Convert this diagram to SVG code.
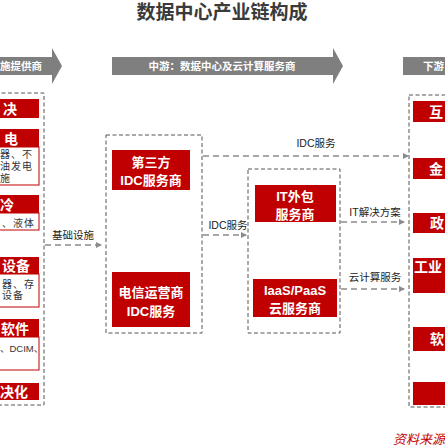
<svg xmlns="http://www.w3.org/2000/svg" width="445" height="446" viewBox="0 0 445 446">
<style>
.t{font-family:"Liberation Sans","Noto Sans CJK SC",sans-serif}
.title{font-size:19px;font-weight:bold;fill:#3a3a3a;text-anchor:middle}
.band{fill:#7f7f7f}
.bandt{font-size:10.5px;font-weight:bold;fill:#fff}
.red{fill:#c00000}
.wbox{fill:#fff;stroke:#c00000;stroke-width:1}
.hd{font-size:14px;font-weight:bold;fill:#fff}
.sm{font-size:10px;fill:#333;letter-spacing:1px}
.frame{fill:none;stroke:#555;stroke-width:1;stroke-dasharray:4 2.5}
.mid{font-size:13px;font-weight:bold;fill:#fff;text-anchor:middle}
.conn{fill:none;stroke:#8c8c8c;stroke-width:1.5;stroke-dasharray:6 4;marker-end:url(#ah)}
.lab{font-size:10.5px;fill:#222;text-anchor:middle}
.src{font-size:13px;font-style:italic;fill:#c00000}
</style>
<defs>
<marker id="ah" viewBox="0 0 6 6" refX="5" refY="3" markerWidth="6" markerHeight="6" markerUnits="userSpaceOnUse" orient="auto">
<path d="M0,0 L6,3 L0,6 z" fill="#8c8c8c"/>
</marker>
</defs>
<rect width="445" height="446" fill="#fff"/>
<text class="t title" x="222" y="19">数据中心产业链构成</text>

<g id="band-left">
<polygon class="band" points="-5,57 52,57 52,48 62,66 52,84 52,75 -5,75"/>
<text class="t bandt" x="0" y="70">施提供商</text>
</g>
<g id="band-mid">
<polygon class="band" points="112,57 333,57 333,48 343,66 333,84 333,75 112,75"/>
<text class="t bandt" x="222" y="70" text-anchor="middle">中游：数据中心及云计算服务商</text>
</g>
<g id="band-right">
<polygon class="band" points="403,57 450,57 450,75 403,75"/>
<text class="t bandt" x="423" y="70">下游</text>
</g>

<g id="upstream">
<rect class="frame" x="-5" y="93" width="49" height="312"/>
<g id="up1">
<rect class="red" x="-5" y="99" width="44" height="19"/>
<text class="t hd" x="3" y="114">决</text>
</g>
<g id="up2">
<rect class="wbox" x="-5" y="147" width="44" height="38"/>
<rect class="red" x="-5" y="129" width="44" height="18"/>
<text class="t hd" x="4" y="144">电</text>
<text class="t sm" x="0" y="158">器、不</text>
<text class="t sm" x="0" y="170">油发电</text>
<text class="t sm" x="0" y="182">施</text>
</g>
<g id="up3">
<rect class="wbox" x="-5" y="213" width="44" height="17"/>
<rect class="red" x="-5" y="195" width="44" height="18"/>
<text class="t hd" x="0" y="210">冷</text>
<text class="t sm" x="2" y="227">、液体</text>
</g>
<g id="up4">
<rect class="wbox" x="-5" y="274" width="44" height="33"/>
<rect class="red" x="-5" y="257" width="44" height="17"/>
<text class="t hd" x="2" y="271">设备</text>
<text class="t sm" x="2" y="288">器、存</text>
<text class="t sm" x="2" y="299">设备</text>
</g>
<g id="up5">
<rect class="wbox" x="-5" y="337" width="44" height="33"/>
<rect class="red" x="-5" y="319" width="44" height="18"/>
<text class="t hd" x="1" y="334">软件</text>
<text class="t sm" x="0" y="352" style="letter-spacing:0;font-size:9.5px">、DCIM、</text>
</g>
<g id="up6">
<rect class="red" x="-5" y="383" width="44" height="17"/>
<text class="t hd" x="0" y="397">决化</text>
</g>
</g>

<g id="idc-group">
<rect class="frame" x="106" y="135" width="96" height="198"/>
<g id="idc-third">
<rect class="red" x="112" y="150" width="78" height="40"/>
<text class="t mid" x="151" y="167">第三方</text>
<text class="t mid" x="151" y="185">IDC服务商</text>
</g>
<g id="idc-telecom">
<rect class="red" x="112" y="272" width="78" height="55"/>
<text class="t mid" x="151" y="297">电信运营商</text>
<text class="t mid" x="151" y="316">IDC服务</text>
</g>
</g>

<g id="cloud-group">
<rect class="frame" x="248" y="169" width="92" height="164"/>
<g id="it-outsource">
<rect class="red" x="255" y="185" width="81" height="37"/>
<text class="t mid" x="295" y="201">IT外包</text>
<text class="t mid" x="295" y="219">服务商</text>
</g>
<g id="iaas">
<rect class="red" x="253" y="279" width="84" height="38"/>
<text class="t mid" x="295" y="295">IaaS/PaaS</text>
<text class="t mid" x="295" y="313">云服务商</text>
</g>
</g>

<g id="downstream">
<rect class="frame" x="409" y="95" width="45" height="312"/>
<g id="d1"><rect class="red" x="413" y="101" width="40" height="21"/><text class="t hd" x="429" y="117">互</text></g>
<g id="d2"><rect class="red" x="413" y="158" width="40" height="21"/><text class="t hd" x="429" y="174">金</text></g>
<g id="d3"><rect class="red" x="413" y="213" width="40" height="20"/><text class="t hd" x="430" y="228">政</text></g>
<g id="d4"><rect class="red" x="413" y="258" width="40" height="35"/><text class="t hd" x="414" y="272">工业</text></g>
<g id="d5"><rect class="red" x="413" y="327" width="40" height="24"/><text class="t hd" x="430" y="344">软</text></g>
<g id="d6"><rect class="red" x="413" y="382" width="40" height="23"/></g>
</g>

<g id="connectors">
<path class="conn" d="M45,245 H101"/>
<text class="t lab" x="73" y="239">基础设施</text>
<path class="conn" d="M203,156 H408"/>
<text class="t lab" x="316" y="147">IDC服务</text>
<path class="conn" d="M203,235 H246"/>
<text class="t lab" x="228" y="229">IDC服务</text>
<path class="conn" d="M341,222 H404"/>
<text class="t lab" x="375" y="216">IT解决方案</text>
<path class="conn" d="M341,289 H404"/>
<text class="t lab" x="375" y="281">云计算服务</text>
</g>

<text class="t src" x="393" y="444">资料来源</text>
</svg>
